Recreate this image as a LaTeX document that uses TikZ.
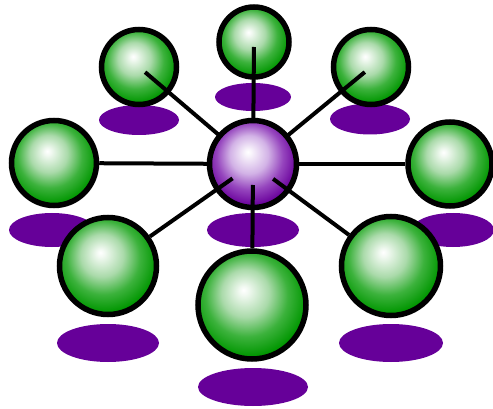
\documentclass[tikz,border=0pt]{standalone}
\usetikzlibrary{calc,shapes.geometric}
\definecolor{gd}{RGB}{0,150,0}
\definecolor{gm}{RGB}{60,178,60}
\definecolor{gl}{RGB}{170,218,170}
\definecolor{pd}{RGB}{105,0,155}
\definecolor{pm}{RGB}{150,70,190}
\definecolor{pl}{RGB}{210,178,230}
\definecolor{shad}{RGB}{102,0,153}
\pgfdeclareradialshading{greenball}{\pgfpoint{-4bp}{7bp}}{color(0bp)=(white); color(2bp)=(white!85!gl); color(11bp)=(gl); color(19bp)=(gm); color(27bp)=(gd); color(50bp)=(gd)}
\pgfdeclareradialshading{purpleball}{\pgfpoint{-3bp}{7bp}}{color(0bp)=(white); color(2bp)=(white!85!pl); color(11bp)=(pl); color(19bp)=(pm); color(27bp)=(pd); color(50bp)=(pd)}
\tikzset{
  ballg/.style={circle, draw=black, line width=5.5pt, inner sep=0pt, shading=greenball, minimum size=#1},
  ballp/.style={circle, draw=black, line width=5.5pt, inner sep=0pt, shading=purpleball, minimum size=#1},
  shadow/.style n args={2}{ellipse, fill=shad, draw=none, inner sep=0pt, minimum width=#1, minimum height=#2},
  link/.style={draw=black, line width=4pt}
}
\begin{document}
\begin{tikzpicture}[x=1pt,y=-1pt]
\useasboundingbox (0,0) rectangle (493,409);
% shadows
\node[shadow={76pt}{28pt}] (st) at (253,97) {};
\node[shadow={80pt}{30pt}] (stl) at (139,120) {};
\node[shadow={80pt}{31pt}] (str) at (370,119) {};
\node[shadow={86pt}{34pt}] (sl) at (52,230) {};
\node[shadow={82pt}{34pt}] (sr) at (453,230) {};
\node[shadow={92pt}{34pt}] (sc) at (253,230) {};
\node[shadow={102pt}{38pt}] (sbl) at (108,343) {};
\node[shadow={104pt}{38pt}] (sbr) at (391,343) {};
\node[shadow={110pt}{38pt}] (sb) at (253,387) {};
% positions
\coordinate (cc) at (253,164);
% upper balls
\node[ballg={70pt}] (t) at (254,42) {};
\node[ballg={75pt}] (tl) at (139,67) {};
\node[ballg={75pt}] (tr) at (371,67) {};
% lines to upper balls
\draw[link] ($(t.center)!5pt!(cc)$) -- (cc);
\draw[link] ($(tl.center)!8pt!(cc)$) -- (cc);
\draw[link] ($(tr.center)!8pt!(cc)$) -- (cc);
% left and right
\node[ballg={85pt}] (l) at (54,163) {};
\node[ballg={84pt}] (r) at (450,164) {};
\draw[link] (l) -- (cc);
\draw[link] (r) -- (cc);
% center ball
\node[ballp={87pt}] (c) at (cc) {};
% lower balls
\node[ballg={97pt}] (bl) at (108,266) {};
\node[ballg={99pt}] (br) at (391,266) {};
\node[ballg={108pt}] (b) at (252,305) {};
\draw[link] ($(c.center)!25pt!(bl.center)$) -- (bl);
\draw[link] ($(c.center)!25pt!(br.center)$) -- (br);
\draw[link] ($(c.center)!21pt!(b.center)$) -- (b);
\end{tikzpicture}
\end{document}
